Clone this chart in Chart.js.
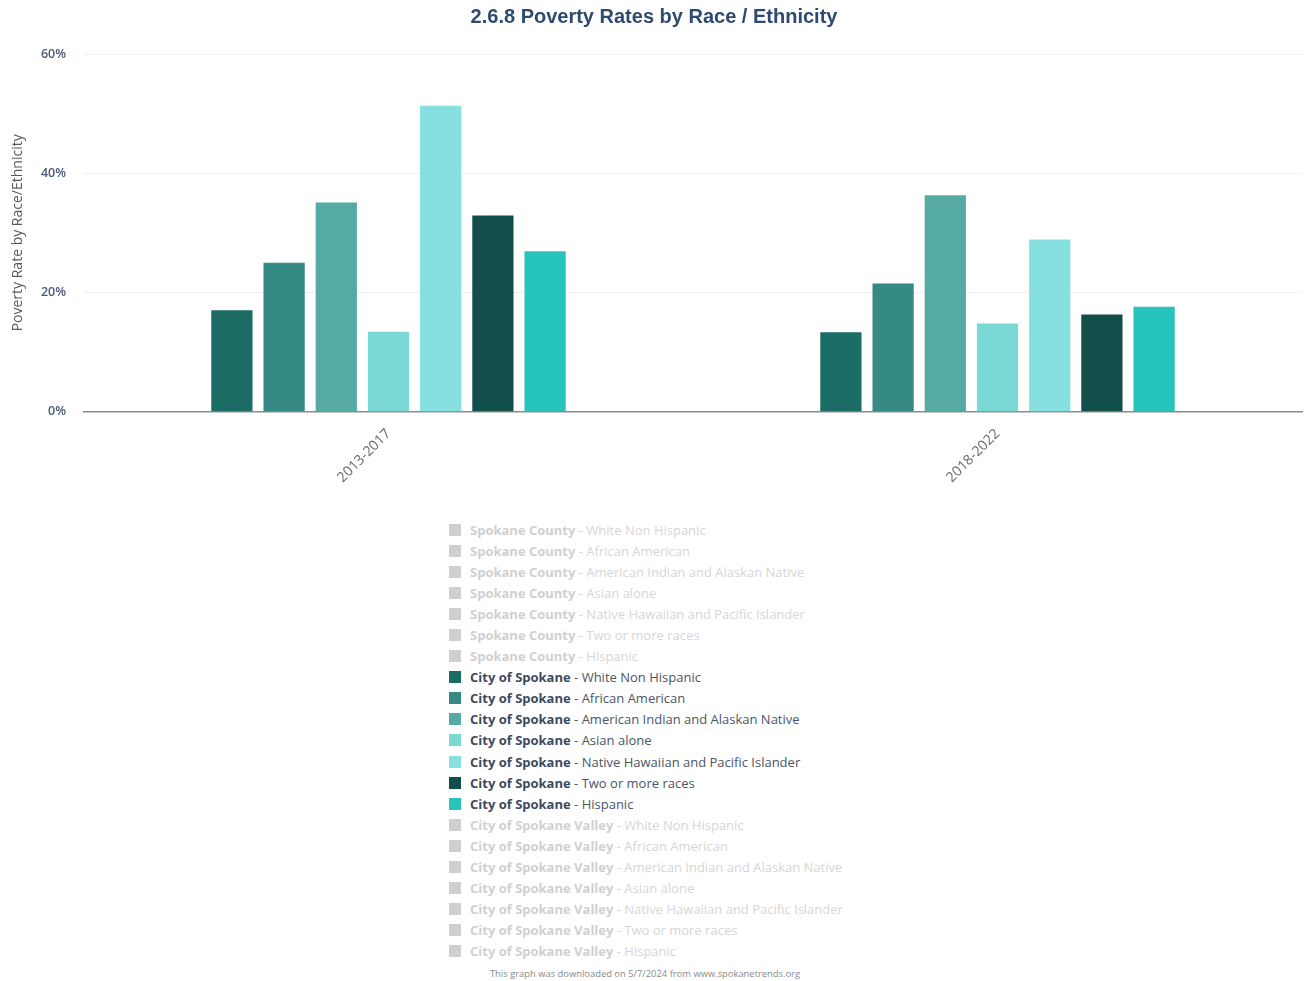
<!DOCTYPE html>
<html>
<head>
<meta charset="utf-8">
<script src="https://cdn.jsdelivr.net/npm/chart.js@4"></script>
<style>
  html, body { margin: 0; padding: 0; background: #fff; }
  body { width: 1312px; height: 981px; position: relative; overflow: hidden; font-family: "Open Sans", Lato, sans-serif; }
  #wrap { position: absolute; left: 0; top: 0; width: 1312px; height: 500px; }
  #legend { position: absolute; left: 449px; top: 519px; }
  .li { height: 21.1px; display: flex; align-items: center; font-size: 13px; white-space: nowrap; }
  .box { width: 12px; height: 12px; margin-right: 9px; flex: none; }
  .li b { font-weight: 700; }
  #footer { position: absolute; left: 0; width: 1290px; top: 967px; text-align: center; font-size: 9.4px; color: #8a8a8a; font-family: "Open Sans", sans-serif; }
</style>
</head>
<body>
<div id="wrap"><canvas id="c" width="1312" height="500"></canvas></div>
<div id="legend"></div>
<div id="footer">This graph was downloaded on 5/7/2024 from www.spokanetrends.org</div>
<script>
// ---- data ----
const categories = ['2013-2017', '2018-2022'];
const geographies = ['Spokane County', 'City of Spokane', 'City of Spokane Valley'];
const races = ['White Non Hispanic', 'African American', 'American Indian and Alaskan Native', 'Asian alone', 'Native Hawaiian and Pacific Islander', 'Two or more races', 'Hispanic'];
// City of Spokane poverty rates (%) per race, by period
const cityWhiteNonHispanic = [17.0, 13.3];
const cityAfricanAmerican = [25.0, 21.5];
const cityAmericanIndian = [35.1, 36.3];
const cityAsianAlone = [13.4, 14.8];
const cityNativeHawaiian = [51.3, 28.9];
const cityTwoOrMore = [32.9, 16.3];
const cityHispanic = [26.9, 17.6];
const cityValues = [cityWhiteNonHispanic, cityAfricanAmerican, cityAmericanIndian, cityAsianAlone, cityNativeHawaiian, cityTwoOrMore, cityHispanic];
const yTicks = [0, 20, 40, 60];

// ---- styles ----
const raceColors = ['#1b6c64', '#358a86', '#55aba3', '#7ad9d5', '#86e0e0', '#124f4a', '#27c4bd'];
const hiddenColor = '#cfcfcf';

const datasets = [];
geographies.forEach((g, gi) => {
  races.forEach((r, ri) => {
    const visible = g === 'City of Spokane';
    datasets.push({
      label: g + ' - ' + r,
      geo: g,
      race: r,
      data: visible ? cityValues[ri] : [],
      hidden: !visible,
      backgroundColor: raceColors[ri],
      borderWidth: 0
    });
  });
});

const chart = new Chart(document.getElementById('c'), {
  type: 'bar',
  data: { labels: categories, datasets },
  options: {
    responsive: false,
    animation: false,
    layout: { padding: { left: 6, right: 10, top: 0, bottom: 8 } },
    datasets: { bar: { categoryPercentage: 0.6, barPercentage: 0.79 } },
    plugins: {
      legend: { display: false },
      tooltip: { enabled: false },
      title: {
        display: true,
        text: '2.6.8 Poverty Rates by Race / Ethnicity',
        color: '#2e4a70',
        font: { family: '"Liberation Sans", Arial, sans-serif', size: 20, weight: 'bold' },
        padding: { top: 5, bottom: 25 }
      }
    },
    scales: {
      x: {
        grid: { display: false },
        border: { color: '#8c8c8c', width: 1.5 },
        ticks: {
          color: '#666',
          font: { family: '"Open Sans", sans-serif', size: 14 },
          minRotation: 45, maxRotation: 45, padding: 6
        }
      },
      y: {
        min: 0, max: 60,
        afterBuildTicks: (axis) => { axis.ticks = yTicks.map(v => ({ value: v })); },
        afterFit: (axis) => { axis.width = 78; },
        grid: { color: '#f0f0f0', drawTicks: false },
        border: { display: false },
        ticks: {
          color: '#4a5a78',
          padding: 18,
          font: { family: '"Open Sans", sans-serif', size: 12.5, weight: '600' },
          callback: (v) => v + '%'
        },
        title: {
          display: true,
          text: 'Poverty Rate by Race/Ethnicity',
          color: '#5a5a5a',
          font: { family: '"Open Sans", sans-serif', size: 14 },
          padding: { top: 4, bottom: 4 }
        }
      }
    }
  }
});

// HTML legend built from the chart's datasets
const legendEl = document.getElementById('legend');
chart.data.datasets.forEach((ds, i) => {
  const hidden = !chart.isDatasetVisible(i);
  const row = document.createElement('div');
  row.className = 'li';
  const box = document.createElement('span');
  box.className = 'box';
  box.style.background = hidden ? hiddenColor : ds.backgroundColor;
  const txt = document.createElement('span');
  txt.style.color = hidden ? '#d6d6d6' : '#4a5566';
  const b = document.createElement('b');
  b.textContent = ds.geo;
  b.style.color = hidden ? '#d0d0d0' : '#3d4a5e';
  txt.appendChild(b);
  txt.appendChild(document.createTextNode(' - ' + ds.race));
  row.appendChild(box);
  row.appendChild(txt);
  legendEl.appendChild(row);
});
</script>
</body>
</html>
